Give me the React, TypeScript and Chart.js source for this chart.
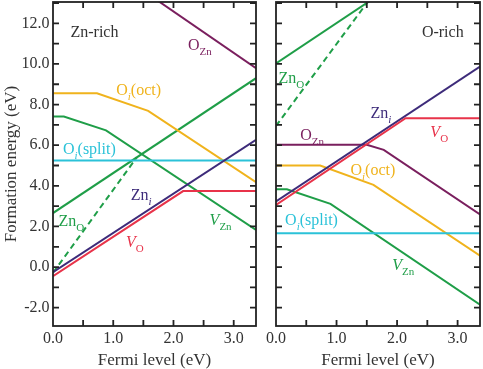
import React, { useEffect, useRef } from 'react';
import { Chart, registerables } from 'chart.js';

Chart.register(...registerables);

// ---------- axis ranges & tick labels ----------
const X_MIN = 0;
const X_MAX = 3.37;
const Y_MIN = -2.9;
const Y_MAX = 13.05;
const X_TICK_STEP = 0.5;
const Y_TICK_STEP = 1;
const X_TITLE = 'Fermi level (eV)';
const Y_TITLE = 'Formation energy (eV)';

// ---------- Zn-rich data (Fermi level eV, formation energy eV) ----------
const znRichOZn = [[1.6, 13.4], [3.37, 9.79]];
const znRichOiOct = [[0, 8.56], [0.73, 8.56], [1.58, 7.69], [3.37, 4.18]];
const znRichOiSplit = [[0, 5.25], [3.37, 5.25]];
const znRichVZn = [[0, 7.41], [0.18, 7.41], [0.88, 6.73], [3.37, 1.83]];
const znRichZnO = [[0, 2.66], [3.37, 9.3]];
const znRichZnODash = [[0, -0.28], [1.39, 5.4]];
const znRichZni = [[0, -0.25], [3.37, 6.26]];
const znRichVO = [[0, -0.45], [2.16, 3.74], [3.37, 3.74]];

// ---------- O-rich data ----------
const oRichZnO = [[0, 10.03], [1.8, 13.6]];
const oRichZnODash = [[0, 6.95], [1.5, 13.0]];
const oRichZni = [[0, 3.23], [3.37, 9.87]];
const oRichVO = [[0, 3.06], [2.14, 7.33], [3.37, 7.33]];
const oRichOZn = [[0, 6.02], [1.5, 6.02], [1.78, 5.77], [3.37, 2.59]];
const oRichOiOct = [[0, 5.0], [0.73, 5.0], [1.61, 4.05], [3.37, 0.56]];
const oRichOiSplit = [[0, 1.67], [3.37, 1.67]];
const oRichVZn = [[0, 3.83], [0.18, 3.83], [0.9, 3.11], [3.37, -1.85]];

// ---------- styles ----------
const C_OZN = '#7a1f5e';
const C_ZNI = '#3d2b7a';
const C_VO = '#e8334a';
const C_OIOCT = '#f0b31c';
const C_OISPLIT = '#2bc2d8';
const C_GREEN = '#1f9e48';
const C_TEXT = '#333333';
const C_FRAME = '#222222';
const SERIF = '"Liberation Serif", "Times New Roman", serif';

type Part = { t: string; sub?: boolean; italic?: boolean };
type Label = { x: number; y: number; parts: Part[]; color: string };

const znRichLabels: Label[] = [
  { x: 0.29, y: 11.33, parts: [{ t: 'Zn-rich' }], color: C_TEXT },
  { x: 2.24, y: 10.69, parts: [{ t: 'O' }, { t: 'Zn', sub: true }], color: C_OZN },
  { x: 1.05, y: 8.47, parts: [{ t: 'O' }, { t: 'i', sub: true, italic: true }, { t: '(oct)' }], color: C_OIOCT },
  { x: 0.165, y: 5.57, parts: [{ t: 'O' }, { t: 'i', sub: true, italic: true }, { t: '(split)' }], color: C_OISPLIT },
  { x: 0.09, y: 2.0, parts: [{ t: 'Zn' }, { t: 'O', sub: true }], color: C_GREEN },
  { x: 1.29, y: 3.28, parts: [{ t: 'Zn' }, { t: 'i', sub: true, italic: true }], color: C_ZNI },
  { x: 1.21, y: 1.01, parts: [{ t: 'V', italic: true }, { t: 'O', sub: true }], color: C_VO },
  { x: 2.6, y: 2.08, parts: [{ t: 'V', italic: true }, { t: 'Zn', sub: true }], color: C_GREEN },
];

const oRichLabels: Label[] = [
  { x: 2.41, y: 11.33, parts: [{ t: 'O-rich' }], color: C_TEXT },
  { x: 0.04, y: 9.05, parts: [{ t: 'Zn' }, { t: 'O', sub: true }], color: C_GREEN },
  { x: 1.56, y: 7.33, parts: [{ t: 'Zn' }, { t: 'i', sub: true, italic: true }], color: C_ZNI },
  { x: 2.55, y: 6.42, parts: [{ t: 'V', italic: true }, { t: 'O', sub: true }], color: C_VO },
  { x: 0.4, y: 6.26, parts: [{ t: 'O' }, { t: 'Zn', sub: true }], color: C_OZN },
  { x: 1.23, y: 4.54, parts: [{ t: 'O' }, { t: 'i', sub: true, italic: true }, { t: '(oct)' }], color: C_OIOCT },
  { x: 0.15, y: 2.08, parts: [{ t: 'O' }, { t: 'i', sub: true, italic: true }, { t: '(split)' }], color: C_OISPLIT },
  { x: 1.92, y: -0.13, parts: [{ t: 'V', italic: true }, { t: 'Zn', sub: true }], color: C_GREEN },
];

function ds(points: number[][], color: string, dashed = false) {
  return {
    data: points.map(([x, y]) => ({ x, y })),
    borderColor: color,
    backgroundColor: color,
    borderWidth: 2,
    borderDash: dashed ? [6, 4] : [],
    pointRadius: 0,
    tension: 0,
    fill: false,
  };
}

const framePlugin = {
  id: 'frameTicks',
  afterDatasetsDraw(chart: any) {
    const { ctx, chartArea: a, scales } = chart;
    const L = 6;
    ctx.save();
    ctx.strokeStyle = C_FRAME;
    ctx.lineWidth = 1.8;
    ctx.beginPath();
    scales.x.ticks.forEach((t: any) => {
      const px = scales.x.getPixelForValue(t.value);
      if (px <= a.left + 1 || px >= a.right - 1) return;
      ctx.moveTo(px, a.bottom);
      ctx.lineTo(px, a.bottom - L);
      ctx.moveTo(px, a.top);
      ctx.lineTo(px, a.top + L);
    });
    scales.y.ticks.forEach((t: any) => {
      const py = scales.y.getPixelForValue(t.value);
      if (py <= a.top + 1 || py >= a.bottom - 1) return;
      ctx.moveTo(a.left, py);
      ctx.lineTo(a.left + L, py);
      ctx.moveTo(a.right, py);
      ctx.lineTo(a.right - L, py);
    });
    ctx.stroke();
    ctx.strokeRect(a.left, a.top, a.right - a.left, a.bottom - a.top);
    ctx.restore();
  },
};

const labelPlugin = {
  id: 'richLabels',
  afterDatasetsDraw(chart: any, _args: any, opts: any) {
    const labels: Label[] = opts.labels || [];
    const { ctx, scales } = chart;
    ctx.save();
    ctx.textBaseline = 'alphabetic';
    ctx.textAlign = 'left';
    labels.forEach((lb) => {
      let cx = scales.x.getPixelForValue(lb.x);
      const cy = scales.y.getPixelForValue(lb.y);
      lb.parts.forEach((p) => {
        const size = p.sub ? 11 : 16;
        ctx.font = `${p.italic ? 'italic ' : ''}${size}px ${SERIF}`;
        ctx.fillStyle = lb.color;
        ctx.fillText(p.t, cx, cy + (p.sub ? 5 : 0));
        cx += ctx.measureText(p.t).width;
      });
    });
    ctx.restore();
  },
};

function fmt(v: number, step: number) {
  const r = Math.round(v * 1000) / 1000;
  return Math.abs(r / step - Math.round(r / step)) < 1e-6 ? r.toFixed(1) : '';
}

function makeOptions(showYLabels: boolean, yWidth: number, padRight: number, labels: Label[]) {
  return {
    responsive: false,
    animation: false,
    events: [],
    layout: { padding: { top: 2, right: padRight, left: 0, bottom: 0 } },
    plugins: {
      legend: { display: false },
      tooltip: { enabled: false },
      richLabels: { labels },
    },
    scales: {
      x: {
        type: 'linear',
        min: X_MIN,
        max: X_MAX,
        grid: { display: false, drawTicks: false },
        border: { display: false },
        ticks: {
          stepSize: X_TICK_STEP,
          includeBounds: false,
          autoSkip: false,
          maxRotation: 0,
          padding: 3,
          color: C_TEXT,
          font: { family: SERIF, size: 16 },
          callback: (v: number) => fmt(v, 1),
        },
        title: {
          display: true,
          text: X_TITLE,
          color: C_TEXT,
          font: { family: SERIF, size: 17, lineHeight: 1 },
          padding: { top: 0, bottom: 0 },
        },
        afterFit: (s: any) => {
          s.height = 43;
          s.paddingLeft = 0;
          s.paddingRight = 0;
        },
      },
      y: {
        type: 'linear',
        min: Y_MIN,
        max: Y_MAX,
        grid: { display: false, drawTicks: false },
        border: { display: false },
        ticks: {
          display: showYLabels,
          stepSize: Y_TICK_STEP,
          includeBounds: false,
          autoSkip: false,
          padding: 3.5,
          color: C_TEXT,
          font: { family: SERIF, size: 16 },
          callback: (v: number) => fmt(v, 2),
        },
        title: {
          display: showYLabels,
          text: Y_TITLE,
          color: C_TEXT,
          font: { family: SERIF, size: 17, lineHeight: 1 },
          padding: { top: 3.5, bottom: 0 },
        },
        afterFit: (s: any) => {
          s.width = yWidth;
          s.paddingTop = 0;
          s.paddingBottom = 0;
        },
      },
    },
  };
}

function Panel(props: {
  left: number;
  width: number;
  datasets: any[];
  showY: boolean;
  yWidth: number;
  padRight: number;
  labels: Label[];
}) {
  const ref = useRef<HTMLCanvasElement | null>(null);
  useEffect(() => {
    if (!ref.current) return;
    const chart = new Chart(ref.current, {
      type: 'line',
      data: { datasets: props.datasets },
      options: makeOptions(props.showY, props.yWidth, props.padRight, props.labels) as any,
      plugins: [framePlugin, labelPlugin],
    });
    return () => chart.destroy();
  }, []);
  return (
    <canvas
      ref={ref}
      width={props.width}
      height={369}
      style={{ position: 'absolute', left: props.left, top: 0, width: props.width, height: 369 }}
    />
  );
}

export default function App() {
  const znRichDatasets = [
    ds(znRichVO, C_VO),
    ds(znRichZni, C_ZNI),
    ds(znRichOiSplit, C_OISPLIT),
    ds(znRichOZn, C_OZN),
    ds(znRichOiOct, C_OIOCT),
    ds(znRichVZn, C_GREEN),
    ds(znRichZnO, C_GREEN),
    ds(znRichZnODash, C_GREEN, true),
  ];
  const oRichDatasets = [
    ds(oRichVO, C_VO),
    ds(oRichZni, C_ZNI),
    ds(oRichOiSplit, C_OISPLIT),
    ds(oRichOZn, C_OZN),
    ds(oRichOiOct, C_OIOCT),
    ds(oRichVZn, C_GREEN),
    ds(oRichZnO, C_GREEN),
    ds(oRichZnODash, C_GREEN, true),
  ];
  return (
    <div style={{ position: 'absolute', left: 0, top: 0, width: 483, height: 369, background: '#fff' }}>
      <Panel left={0} width={262} datasets={znRichDatasets} showY={true} yWidth={53} padRight={6} labels={znRichLabels} />
      <Panel left={262} width={221} datasets={oRichDatasets} showY={false} yWidth={14} padRight={3} labels={oRichLabels} />
    </div>
  );
}
